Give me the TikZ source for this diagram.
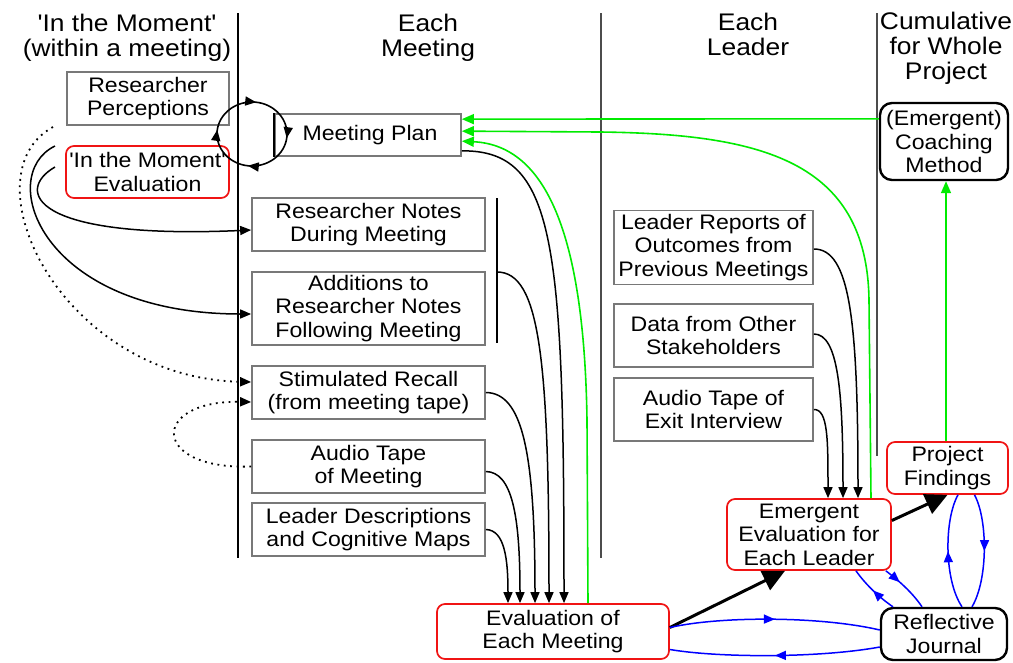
\documentclass[tikz,border=0pt]{standalone}
\usepackage{fontspec}
\setmainfont{Liberation Sans}[FakeStretch=1.1, Ligatures=TeXOff]
\usetikzlibrary{arrows.meta,calc,decorations.markings}
\definecolor{boxgray}{RGB}{120,120,120}
\definecolor{lngreen}{RGB}{0,235,0}
\definecolor{lnblue}{RGB}{0,0,255}
\definecolor{lnred}{RGB}{240,20,20}
\begin{document}
\begin{tikzpicture}[x=1pt,y=-1pt,
  every node/.style={font=\fontsize{21}{23.5}\selectfont, align=center, inner sep=0pt},
  hdr/.style={font=\fontsize{24}{25}\selectfont},
  gbox/.style={draw=boxgray, line width=1.7pt},
  rbox/.style={draw=lnred, line width=1.7pt, rounded corners=8pt},
  kbox/.style={draw=black, line width=2.4pt, rounded corners=12pt},
  tip/.style={-{Triangle[length=11pt,width=9pt]}},
  arr/.style={line width=1.5pt, tip},
  garr/.style={draw=lngreen, line width=1.6pt, -{Triangle[length=12pt,width=10pt]}},
  bigarr/.style={line width=3pt, -{Triangle[length=22pt,width=21pt]}},
  dotarr/.style={line width=1.8pt, dash pattern=on 1.8pt off 4.6pt, tip},
  bmid/.style={color=lnblue, line width=1.5pt, postaction={decorate},
    decoration={markings, mark=at position #1 with {\arrow{Triangle[length=11pt,width=9pt]}}}},
  sep/.style={line width=1.4pt}
]
\fill[white] (0,0) rectangle (1013,662);
\useasboundingbox (0,0) rectangle (1013,662);

% headers
\node[hdr] (h1) at (127,37.5) {'In the Moment'\\(within a meeting)};
\node[hdr] (h2) at (428,37.5) {Each\\Meeting};
\node[hdr] (h3) at (748,34.5) {Each\\Leader};
\node[hdr] (h4) at (946,48) {Cumulative\\for Whole\\Project};

% separators
\draw[sep] (238,13) -- (238,558);
\draw[sep, draw=black!70] (601,13) -- (601,558);
\draw[sep, draw=black!70] (877,13) -- (877,456);
\draw[line width=1.8pt] (497,198) -- (497,343);

% boxes
\node[gbox, minimum width=162pt, minimum height=53pt] (rp) at (148,98.5) {Researcher\\Perceptions};
\node[rbox, minimum width=163pt, minimum height=52pt] (im) at (147.5,172) {'In the Moment'\\Evaluation};
\node[gbox, minimum width=186pt, minimum height=42pt] (mp) at (368,135) {\hspace*{4pt}Meeting Plan};
\node[gbox, minimum width=233pt, minimum height=53pt] (rn) at (368.5,224.5) {Researcher Notes\\During Meeting};
\node[gbox, minimum width=233pt, minimum height=73pt] (ad) at (368.5,308.5) {Additions to\\Researcher Notes\\Following Meeting};
\node[gbox, minimum width=233pt, minimum height=53pt] (sr) at (368.5,392.5) {Stimulated Recall\\(from meeting tape)};
\node[gbox, minimum width=233pt, minimum height=53pt] (at) at (368.5,466.5) {Audio Tape\\of Meeting};
\node[gbox, minimum width=233pt, minimum height=53pt] (ld) at (368.5,529.5) {Leader Descriptions\\and Cognitive Maps};
\node[rbox, minimum width=232pt, minimum height=55pt] (em) at (553,631.5) {Evaluation of\\Each Meeting};
\node[gbox, minimum width=199pt, minimum height=74pt] (lr) at (713.5,247.5) {Leader Reports of\\Outcomes from\\Previous Meetings};
\node[gbox, minimum width=199pt, minimum height=63pt] (ds) at (713.5,335.5) {Data from Other\\Stakeholders};
\node[gbox, minimum width=199pt, minimum height=63pt] (ae) at (713.5,409.5) {Audio Tape of\\Exit Interview};
\node[rbox, minimum width=164pt, minimum height=71pt] (el) at (809,534.5) {Emergent\\Evaluation for\\Each Leader};
\node[rbox, minimum width=121pt, minimum height=52pt] (pf) at (947.5,468) {Project\\Findings};
\node[kbox, minimum width=126pt, minimum height=52pt] (rj) at (944,634) {Reflective\\Journal};
\node[kbox, minimum width=128pt, minimum height=77pt] (cm) at (944,141.5) {(Emergent)\\Coaching\\Method};
\draw[line width=1.6pt] (mp.north west) -- (mp.south west);

% cycle around the meeting plan
\draw[line width=1.6pt, postaction={decorate}, decoration={markings,
  mark=at position 0.02 with {\arrow{Triangle[length=11pt,width=9pt]}},
  mark=at position 0.27 with {\arrow{Triangle[length=11pt,width=9pt]}},
  mark=at position 0.52 with {\arrow{Triangle[length=11pt,width=9pt]}},
  mark=at position 0.77 with {\arrow{Triangle[length=11pt,width=9pt]}}}]
  (252,134) ellipse [x radius=35, y radius=32];

% left side curves
\coordinate (sA) at (55,146);
\coordinate (sB) at (55,167);
\coordinate (sC) at (53,127);
\draw[arr] (sA) .. controls (-5,175) and (40,314) .. ($(ad.west)+(0,5.5)$);
\draw[arr] (sB) .. controls (15,190) and (30,240) .. ($(rn.west)+(0,5.5)$);
\draw[dotarr] (sC) .. controls (-35,175) and (60,378) .. ($(sr.west)+(0,-10.5)$);
\draw[dotarr] (at.west) .. controls (150,470) and (150,400) .. ($(sr.west)+(0,9.5)$);

% into evaluation of each meeting
\coordinate (br) at (497,272);
\draw[arr] ($(mp.south east)+(0,-6)$) .. controls (555,150) and (564,240) .. ($(em.north)+(11,0)$);
\draw[arr] (br) .. controls (540,272) and (549,360) .. ($(em.north)+(-4,0)$);
\draw[arr] (sr.east) .. controls (522,393) and (535,450) .. ($(em.north)+(-18,0)$);
\draw[arr] ($(at.east)+(0,5)$) .. controls (512,472) and (520,515) .. ($(em.north)+(-33,0)$);
\draw[arr] (ld.east) .. controls (505,530) and (508,560) .. ($(em.north)+(-45,0)$);

% into emergent evaluation
\draw[arr] ($(lr.east)+(0,1.5)$) .. controls (850,249) and (858,320) .. ($(el.north)+(49,0)$);
\draw[arr] ($(ds.east)+(0,-1.5)$) .. controls (838,334) and (843,390) .. ($(el.north)+(34,0)$);
\draw[arr] (ae.east) .. controls (828,409) and (828,440) .. ($(el.north)+(19,0)$);

% green feedback
\draw[garr] ($(cm.north west)+(0,17)$) -- ($(mp.north east)+(0,6)$);
\draw[garr] ($(el.north)+(62,0)$) -- (869,300) .. controls (867,160) and (760,134) .. (600,132) -- ($(mp.north east)+(0,18)$);
\draw[garr] ($(em.north)+(35,0)$) -- (587,420) .. controls (584,220) and (540,145) .. ($(mp.north east)+(0,28)$);
\coordinate (pft) at ($(pf.north)+(-1.5,0)$);
\draw[garr] (pft) -- (pft |- cm.south);

% thick arrows
\draw[bigarr] ($(em.east)+(0,-4)$) -- ($(el.south)+(-24,0)$);
\draw[bigarr] ($(el.east)+(0,-14)$) -- (pf.south);

% blue loops
\draw[bmid=0.5] ($(em.east)+(0,-4)$) .. controls (720,616) and (820,616) .. ($(rj.west)+(0,-4)$);
\draw[bmid=0.5] ($(rj.west)+(0,13)$) .. controls (820,658) and (720,658) .. ($(em.east)+(0,18)$);
\draw[bmid=0.35] ($(el.south east)+(-6,0)$) .. controls (898,580) and (912,592) .. ($(rj.north)+(-22,0)$);
\draw[bmid=0.5] ($(rj.north)+(-51,0)$) .. controls (880,598) and (866,585) .. ($(el.south)+(47,0)$);
\draw[bmid=0.5] ($(rj.north)+(18,0)$) .. controls (944,580) and (944,520) .. ($(pf.south)+(10.5,0)$);
\draw[bmid=0.5] ($(pf.south)+(27,0)$) .. controls (988,520) and (988,580) .. ($(rj.north)+(28,0)$);
\end{tikzpicture}
\end{document}
